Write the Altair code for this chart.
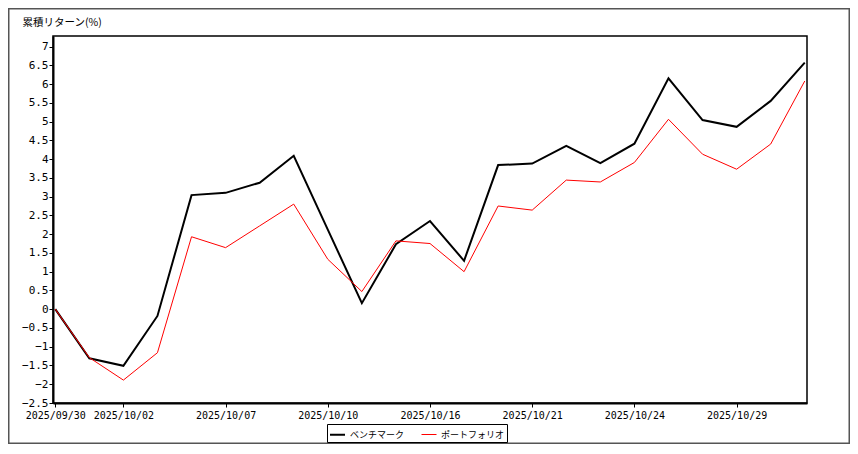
import altair as alt
import pandas as pd

dates = ["2025/09/30", "2025/10/01", "2025/10/02", "2025/10/03", "2025/10/06",
         "2025/10/07", "2025/10/08", "2025/10/09", "2025/10/10", "2025/10/14",
         "2025/10/15", "2025/10/16", "2025/10/17", "2025/10/20", "2025/10/21",
         "2025/10/22", "2025/10/23", "2025/10/24", "2025/10/27", "2025/10/28",
         "2025/10/29", "2025/10/30", "2025/10/31"]
benchmark = [0.0, -1.31, -1.51, -0.18, 3.04, 3.10, 3.37, 4.09, 2.12, 0.16,
             1.73, 2.35, 1.29, 3.84, 3.88, 4.35, 3.89, 4.41, 6.15, 5.04,
             4.86, 5.55, 6.57]
portfolio = [0.0, -1.29, -1.89, -1.16, 1.93, 1.64, 2.22, 2.80, 1.33, 0.47,
             1.82, 1.75, 1.00, 2.75, 2.64, 3.44, 3.39, 3.91, 5.06, 4.13,
             3.73, 4.40, 6.08]
series_names = ["ベンチマーク", "ポートフォリオ"]
series_colors = ["#000000", "#ff0000"]
series_widths = [2, 1]
label_dates = ["2025/09/30", "2025/10/02", "2025/10/07", "2025/10/10",
               "2025/10/16", "2025/10/21", "2025/10/24", "2025/10/29"]
y_ticks = [-2.5, -2, -1.5, -1, -0.5, 0, 0.5, 1, 1.5, 2, 2.5, 3, 3.5, 4,
           4.5, 5, 5.5, 6, 6.5, 7]

rows = []
for name, vals in zip(series_names, [benchmark, portfolio]):
    for d, v in zip(dates, vals):
        rows.append({"date": d, "series": name, "value": v})
df = pd.DataFrame(rows)

JP = "Noto Sans CJK JP"
NUM = "DejaVu Sans Mono"

W, H = 754, 367
PAD_L, PAD_T, PAD_R, PAD_B = 45, 28, 43, 41

legend_props = dict(
    orient="none", legendX=274, legendY=388, direction="horizontal",
    title=None, strokeColor="#000000", padding=2,
    symbolType="stroke", symbolSize=225, labelFont=JP, labelFontSize=9,
    labelColor="#000000", columnPadding=14,
)

lines = alt.Chart(df).mark_line().encode(
    x=alt.X("date:O", sort=dates,
            scale=alt.Scale(type="point", padding=0.066),
            axis=alt.Axis(values=label_dates, title=None, labelAngle=0,
                          labelFont=NUM, labelFontSize=10, labelColor="#000000",
                          tickColor="#000000", tickSize=4, tickWidth=1,
                          domainColor="#000000", domainWidth=2,
                          labelPadding=3, grid=False, labelOverlap=False)),
    y=alt.Y("value:Q",
            scale=alt.Scale(domain=[-2.5, 7.28], nice=False, zero=False),
            axis=alt.Axis(values=y_ticks, format=".1~f",
                          title="累積リターン(%)", titleAngle=0,
                          titleX=-31, titleY=-14, titleAlign="left",
                          titleBaseline="middle", titleFont=JP,
                          titleFontSize=10.5, titleFontWeight="normal",
                          titleColor="#000000",
                          labelFont=NUM, labelFontSize=11, labelColor="#000000",
                          tickColor="#000000", tickSize=4, tickWidth=1,
                          domainColor="#000000", domainWidth=2,
                          labelPadding=1, grid=False, labelOverlap=False)),
    color=alt.Color("series:N", sort=series_names,
                    scale=alt.Scale(domain=series_names, range=series_colors),
                    legend=alt.Legend(**legend_props)),
    strokeWidth=alt.StrokeWidth("series:N", sort=series_names,
                                scale=alt.Scale(domain=series_names, range=series_widths),
                                legend=alt.Legend(**legend_props)),
)

frame = alt.Chart(pd.DataFrame({"a": [0]})).mark_rect(
    fillOpacity=0, stroke="#555555", strokeWidth=1.5
).encode(
    x=alt.value(-PAD_L + 0.75), x2=alt.value(W + PAD_R - 0.75),
    y=alt.value(-PAD_T + 0.75), y2=alt.value(H + PAD_B - 0.75)
)

chart = alt.layer(frame, lines).properties(
    width=W, height=H,
    autosize=alt.AutoSizeParams(type="none"),
    padding={"left": PAD_L, "top": PAD_T, "right": PAD_R, "bottom": PAD_B},
    background="#ffffff",
).configure_view(stroke="#000000", strokeWidth=1.5)

chart.save("out.html", embed_options={"renderer": "svg", "actions": False})
